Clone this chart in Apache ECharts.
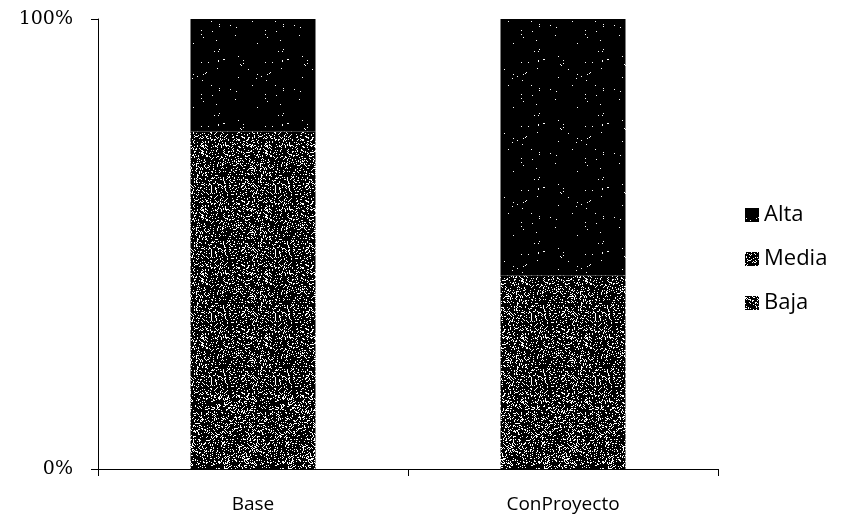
<!DOCTYPE html>
<html><head><meta charset="utf-8">
<script src="https://cdn.jsdelivr.net/npm/echarts@6/dist/echarts.min.js"></script>
<style>html,body{margin:0;padding:0;background:#fff}#c{width:849px;height:524px}</style>
</head><body><div id="c"></div>
<script>
var categories = ['Base', 'ConProyecto'];
var baja = [16, 14];
var media = [59, 29];
var alta = [25, 57];
var legendOrder = ['Alta', 'Media', 'Baja'];

function speckle(density, seed) {
  var c = document.createElement('canvas');
  c.width = 64; c.height = 64;
  var ctx = c.getContext('2d');
  ctx.fillStyle = '#000'; ctx.fillRect(0, 0, 64, 64);
  ctx.fillStyle = '#fff';
  var s = seed;
  for (var y = 0; y < 64; y++) {
    for (var x = 0; x < 64; x++) {
      s = (s * 1103515245 + 12345) & 0x7fffffff;
      if ((s % 1000) / 1000 < density) ctx.fillRect(x, y, 1, 1);
    }
  }
  return c;
}
var pMedia = speckle(0.2, 7);
var pBaja = speckle(0.22, 91);
var pAlta = speckle(0.006, 33);

var chart = echarts.init(document.getElementById('c'), null, {renderer: 'canvas'});
function mk(name, data, pat) {
  return {
    name: name, type: 'bar', stack: 'total', data: data, barWidth: 125,
    itemStyle: {color: {image: pat, repeat: 'repeat'}},
    emphasis: {disabled: true}
  };
}
chart.setOption({
  animation: false,
  grid: {left: 98, right: 131, top: 19, bottom: 55},
  legend: {
    data: legendOrder, orient: 'vertical', left: 740, top: 199,
    itemWidth: 14, itemHeight: 14, itemGap: 22,
    icon: 'rect',
    textStyle: {fontFamily: 'Open Sans', fontSize: 22, color: '#000'}
  },
  xAxis: {
    type: 'category', data: categories,
    axisLine: {lineStyle: {color: '#000', width: 1}},
    axisTick: {show: true, length: 7, lineStyle: {color: '#000'}},
    axisLabel: {fontFamily: 'Open Sans', fontSize: 19, color: '#000', margin: 26}
  },
  yAxis: {
    type: 'value', min: 0, max: 100, interval: 100,
    axisLine: {show: true, lineStyle: {color: '#000', width: 1}},
    axisTick: {show: true, length: 7, lineStyle: {color: '#000'}},
    splitLine: {show: false},
    axisLabel: {formatter: '{value}%', fontFamily: 'DejaVu Serif', fontSize: 19, color: '#000', margin: 25}
  },
  series: [mk('Baja', baja, pBaja), mk('Media', media, pMedia), mk('Alta', alta, pAlta)]
});
</script></body></html>
